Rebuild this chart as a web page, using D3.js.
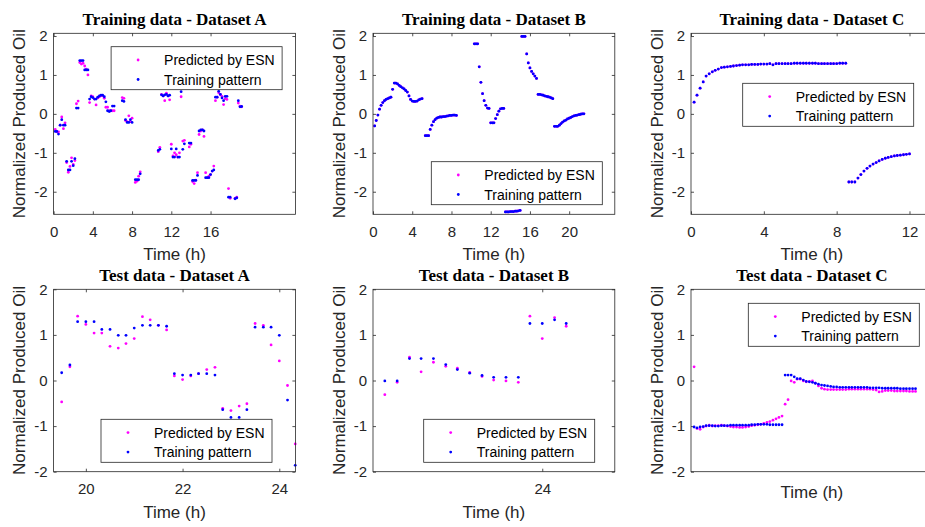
<!DOCTYPE html>
<html>
<head>
<meta charset="utf-8">
<script src="https://cdn.jsdelivr.net/npm/d3@7"></script>
<style>
  body { margin: 0; background: #fff; }
  svg { display: block; }
</style>
</head>
<body>
<svg id="chart" width="925" height="527"></svg>
<script>
// ---------- Training data, Dataset A: [time (h), training pattern, ESN prediction] ----------
const trainA = [
  [0.17,-0.45,-0.40],[0.33,-0.45,-0.46],[0.5,-0.52,-0.46],[0.67,-0.29,-0.29],[0.83,-0.15,-0.08],[1.0,-0.29,-0.38],[1.17,-0.29,-0.23],
  [1.33,-1.22,-1.25],[1.5,-1.44,-1.50],[1.67,-1.44,-1.35],[1.83,-1.22,-1.13],[2.0,-1.33,-1.30],[2.17,-1.15,-1.20],
  [2.33,0.15,0.26],[2.5,0.15,0.33],
  [2.67,1.37,1.32],[2.83,1.37,1.28],[3.0,1.37,1.30],[3.17,1.13,1.23],[3.33,1.13,1.15],[3.5,1.13,1.00],
  [3.67,0.38,0.29],[3.83,0.44,0.46],[4.0,0.42,0.44],[4.17,0.38,0.38],[4.33,0.38,0.23],[4.5,0.43,0.41],[4.67,0.46,0.44],
  [4.83,0.48,0.47],[5.0,0.48,0.46],[5.17,0.44,0.40],[5.33,0.31,0.17],
  [5.5,0.08,0.17],[5.67,0.06,0.08],[5.83,0.08,0.08],[6.0,0.20,0.08],[6.17,0.20,0.08],
  [7.0,0.34,0.42],[7.17,0.32,0.40],
  [7.33,-0.15,-0.17],[7.5,-0.22,-0.20],[7.67,-0.22,-0.05],[7.83,-0.15,-0.20],[8.0,-0.22,-0.11],
  [8.33,-1.69,-1.76],[8.5,-1.69,-1.73],[8.67,-1.69,-1.60],[8.83,-1.54,-1.49],
  [10.67,-0.94,-0.97],[10.83,-0.91,-0.86],
  [11.0,0.49,0.50],[11.17,0.46,0.46],[11.33,0.49,0.34],[11.5,0.50,0.53],[11.67,0.46,0.46],[11.83,0.48,0.36],
  [12.0,-0.90,-0.78],[12.17,-1.11,-1.08],[12.33,-1.11,-1.00],[12.5,-0.90,-1.05],[12.67,-1.11,-1.11],[12.83,-1.11,-1.00],
  [13.0,0.57,0.44],
  [13.17,-0.91,-0.70],[13.33,-0.77,-0.68],[13.83,-0.75,-0.85],[14.0,-0.75,-0.78],
  [14.17,-1.71,-1.74],[14.33,-1.71,-1.79],[14.5,-1.71,-1.70],[14.67,-1.58,-1.51],
  [14.83,-0.44,-0.53],[15.0,-0.41,-0.44],[15.17,-0.41,-0.41],[15.33,-0.44,-0.58],
  [15.5,-1.64,-1.51],[15.67,-1.64,-1.64],[15.83,-1.64,-1.60],[16.0,-1.56,-1.56],[16.17,-1.47,-1.47],[16.33,-1.44,-1.34],
  [16.5,0.43,0.34],[16.67,0.43,0.43],[16.83,0.58,0.54],[17.0,0.50,0.50],[17.17,0.41,0.45],[17.33,0.34,0.24],[17.5,0.45,0.39],[17.67,0.45,0.37],
  [17.83,-2.14,-1.92],[18.0,-2.14,-2.17],[18.5,-2.18,-2.17],[18.67,-2.16,-2.14],
  [18.83,0.34,0.28],[19.0,0.18,0.20],[19.17,0.19,0.18]
];

// ---------- Training data, Dataset B: [time (h), value]; the ESN output lies on the pattern ----------
const trainB = [
  [0.17,-0.31],[0.33,-0.17],[0.5,-0.03],[0.67,0.12],[0.83,0.22],[1.0,0.29],[1.17,0.34],[1.33,0.37],[1.5,0.39],[1.67,0.41],
  [1.83,0.43],[2.0,0.63],[2.17,0.79],[2.33,0.79],[2.5,0.77],[2.67,0.73],[2.83,0.70],[3.0,0.67],[3.17,0.64],[3.33,0.60],
  [3.5,0.56],[3.67,0.46],[3.83,0.37],[4.0,0.33],[4.17,0.32],[4.33,0.32],[4.5,0.33],[4.67,0.36],[4.83,0.38],[5.0,0.39],
  [5.33,-0.56],[5.5,-0.56],[5.67,-0.56],[5.83,-0.40],[6.0,-0.29],[6.17,-0.20],[6.33,-0.15],[6.5,-0.11],[6.67,-0.09],[6.83,-0.08],
  [7.0,-0.08],[7.17,-0.07],[7.33,-0.07],[7.5,-0.06],[7.67,-0.05],[7.83,-0.04],[8.0,-0.04],[8.17,-0.03],[8.33,-0.03],[8.5,-0.04],
  [10.33,1.80],[10.5,1.80],[10.67,1.80],[10.83,1.21],[11.0,0.81],[11.17,0.52],[11.33,0.34],[11.5,0.22],[11.67,0.15],[11.83,0.14],
  [12.0,-0.23],[12.17,-0.23],[12.33,-0.23],[12.5,-0.12],[12.67,-0.02],[12.83,0.07],[13.0,0.13],[13.17,0.14],[13.33,0.14],
  [13.5,-2.52],[13.67,-2.52],[13.83,-2.52],[14.0,-2.51],[14.17,-2.51],[14.33,-2.51],[14.5,-2.50],[14.67,-2.50],[14.83,-2.49],[15.0,-2.48],
  [15.17,1.99],[15.33,1.99],[15.5,1.99],[15.67,1.54],[15.83,1.31],[16.0,1.18],[16.17,1.09],[16.33,1.03],[16.5,0.97],[16.67,0.91],
  [16.83,0.50],[17.0,0.50],[17.17,0.49],[17.33,0.48],[17.5,0.46],[17.67,0.45],[17.83,0.44],[18.0,0.43],[18.17,0.41],[18.33,0.39],
  [18.5,-0.32],[18.67,-0.32],[18.83,-0.32],[19.0,-0.29],[19.17,-0.25],[19.33,-0.21],[19.5,-0.18],[19.67,-0.16],[19.83,-0.13],[20.0,-0.11],
  [20.17,-0.09],[20.33,-0.07],[20.5,-0.05],[20.67,-0.04],[20.83,-0.03],[21.0,-0.02],[21.17,-0.01],[21.33,0.0],[21.5,0.0]
];

// ---------- Training data, Dataset C: [time (h), value]; the ESN output lies on the pattern ----------
const trainC = [
  [0.17,0.30],[0.33,0.48],[0.5,0.66],[0.67,0.82],[0.83,0.97],[1.0,1.03],[1.17,1.08],[1.33,1.12],[1.5,1.15],[1.67,1.19],
  [1.83,1.20],[2.0,1.21],[2.17,1.22],[2.33,1.23],[2.5,1.24],[2.67,1.25],[2.83,1.26],[3.0,1.26],[3.17,1.26],[3.33,1.27],
  [3.5,1.27],[3.67,1.27],[3.83,1.28],[4.0,1.28],[4.17,1.28],[4.33,1.29],[4.5,1.26],[4.67,1.29],[4.83,1.29],[5.0,1.29],
  [5.17,1.29],[5.33,1.29],[5.5,1.29],[5.67,1.30],[5.83,1.30],[6.0,1.30],[6.17,1.30],[6.33,1.30],[6.5,1.30],[6.67,1.30],
  [6.83,1.30],[7.0,1.29],[7.17,1.29],[7.33,1.29],[7.5,1.29],[7.67,1.29],[7.83,1.29],[8.0,1.29],[8.17,1.30],[8.33,1.30],[8.5,1.30],
  [8.67,-1.75],[8.83,-1.75],[9.0,-1.75],[9.17,-1.65],[9.33,-1.56],[9.5,-1.47],[9.67,-1.40],[9.83,-1.34],[10.0,-1.29],[10.17,-1.25],
  [10.33,-1.21],[10.5,-1.17],[10.67,-1.14],[10.83,-1.12],[11.0,-1.10],[11.17,-1.08],[11.33,-1.07],[11.5,-1.06],[11.67,-1.05],
  [11.83,-1.04],[12.0,-1.03]
];

// ---------- Test data, Dataset A ----------
const testATime = [19.5,19.67,19.83,20.0,20.17,20.33,20.5,20.67,20.83,21.0,21.17,21.33,21.5,21.67,21.83,
  22.0,22.17,22.33,22.5,22.67,22.83,23.0,23.17,23.33,23.5,23.67,23.83,24.0,24.17,24.33];
const testAPattern = [0.17,0.34,1.29,1.29,1.29,1.12,1.12,0.99,0.99,1.15,1.21,1.21,1.21,1.19,0.15,
  0.12,0.12,0.15,0.15,0.12,-0.64,-0.81,-0.81,-0.64,1.17,1.17,1.17,0.99,-0.43,-1.86];
const testAPred = [-0.47,0.30,1.41,1.23,1.04,1.04,0.75,0.71,0.81,0.92,1.40,1.33,1.21,1.11,0.10,
  0.02,0.10,0.15,0.24,0.29,-0.61,-0.66,-0.56,-0.51,1.25,1.21,0.78,0.43,-0.11,-1.39];

// ---------- Test data, Dataset B ----------
const testBTime = [21.83,22.0,22.17,22.33,22.5,22.67,22.83,23.0,23.17,23.33,23.5,23.67,23.83,24.0,24.17,24.33];
const testBPattern = [-0.01,-0.01,0.48,0.48,0.48,0.35,0.24,0.16,0.11,0.07,0.07,0.07,1.25,1.25,1.33,1.25];
const testBPred = [-0.31,-0.04,0.51,0.19,0.40,0.31,0.27,0.18,0.09,0.01,-0.01,-0.04,1.41,0.92,1.38,1.19];

// ---------- Test data, Dataset C ----------
const testCTime = [12.17,12.33,12.5,12.67,12.83,13.0,13.17,13.33,13.5,13.67,13.83,14.0,14.17,14.33,14.5,
  14.67,14.83,15.0,15.17,15.33,15.5,15.67,15.83,16.0,16.17,16.33,16.5,16.67,16.83,17.0,
  17.17,17.33,17.5,17.67,17.83,18.0,18.17,18.33,18.5,18.67,18.83,19.0,19.17,19.33,19.5,
  19.67,19.83,20.0,20.17,20.33,20.5,20.67,20.83,21.0,21.17,21.33,21.5,21.67,21.83,22.0,
  22.17,22.33,22.5,22.67,22.83,23.0,23.17,23.33,23.5,23.67,23.83,24.0,24.17,24.33];
const testCPattern = [-1.02,-1.04,-1.02,-1.01,-0.99,-0.99,-0.99,-1.00,-1.00,-0.99,-0.99,-0.99,-0.98,-0.98,-0.98,
  -0.98,-0.98,-0.98,-0.98,-0.97,-0.97,-0.96,-0.96,-0.96,-0.96,-0.97,-0.97,-0.97,-0.97,-0.97,
  0.12,0.12,0.12,0.08,0.04,0.04,0.01,-0.02,-0.03,-0.04,-0.06,-0.08,-0.10,-0.11,-0.12,
  -0.13,-0.14,-0.14,-0.15,-0.15,-0.15,-0.15,-0.15,-0.15,-0.15,-0.15,-0.15,-0.15,-0.16,-0.16,
  -0.16,-0.16,-0.17,-0.17,-0.17,-0.17,-0.17,-0.17,-0.18,-0.18,-0.18,-0.18,-0.18,-0.18];
const testCPred = [0.30,-1.05,-1.07,-1.02,-1.00,-0.98,-1.00,-0.99,-0.99,-0.98,-0.99,-1.00,-1.01,-1.02,-1.02,
  -1.03,-1.03,-1.02,-1.01,-0.99,-0.98,-0.97,-0.96,-0.94,-0.92,-0.90,-0.87,-0.84,-0.81,-0.78,
  -0.52,-0.42,-0.01,-0.04,0.03,0.03,-0.01,-0.03,-0.02,-0.01,-0.06,-0.12,-0.17,-0.19,-0.20,
  -0.20,-0.20,-0.20,-0.20,-0.20,-0.20,-0.19,-0.19,-0.19,-0.19,-0.19,-0.19,-0.19,-0.19,
  -0.20,-0.21,-0.25,-0.24,-0.22,-0.22,-0.22,-0.23,-0.23,-0.23,-0.23,-0.23,-0.24,-0.24,-0.24];

// ---------- Axis settings ----------
const trainYDomain = [-2.58, 2.07];
const testYDomain = [-2, 2];
const yTicks = [-2, -1, 0, 1, 2];
const trainATicks = [0, 4, 8, 12, 16];
const trainBTicks = [0, 4, 8, 12, 16, 20];
const trainCTicks = [0, 4, 8, 12];
const testATicks = [20, 22, 24];
const testBTicks = [24];
const testCTicks = [];

const legendLabels = ["Predicted by ESN", "Training pattern"];
const predColor = "#ff00ff";
const patternColor = "#0000ff";

// ---------- Layout ----------
const colLeft = [53.6, 373.0, 691.0];
const plotW = 241.8;
const rowTop = [33.3, 289.3];
const rowH = [181.0, 182.4];

const sansFont = '"Liberation Sans", Arial, Helvetica, sans-serif';
const serifFont = '"Liberation Serif", "Times New Roman", Times, serif';

const panels = [
  { title: "Training data - Dataset A", row: 0, col: 0, xDomain: [0, 24.65], yDomain: trainYDomain, xTicks: trainATicks,
    time: trainA.map(d => d[0]), pattern: trainA.map(d => d[1]), pred: trainA.map(d => d[2]), legend: [57.5, 13.4] },
  { title: "Training data - Dataset B", row: 0, col: 1, xDomain: [0, 24.65], yDomain: trainYDomain, xTicks: trainBTicks,
    time: trainB.map(d => d[0]), pattern: trainB.map(d => d[1]), pred: trainB.map(d => d[1]), legend: [58.3, 128.4] },
  { title: "Training data - Dataset C", row: 0, col: 2, xDomain: [0, 13.28], yDomain: trainYDomain, xTicks: trainCTicks,
    time: trainC.map(d => d[0]), pattern: trainC.map(d => d[1]), pred: trainC.map(d => d[1]), legend: [51.7, 50.0] },
  { title: "Test data - Dataset A", row: 1, col: 0, xDomain: [19.333, 24.333], yDomain: testYDomain, xTicks: testATicks,
    time: testATime, pattern: testAPattern, pred: testAPred, legend: [47.4, 130.0] },
  { title: "Test data - Dataset B", row: 1, col: 1, xDomain: [21.667, 25.0], yDomain: testYDomain, xTicks: testBTicks,
    time: testBTime, pattern: testBPattern, pred: testBPred, legend: [50.7, 130.0] },
  { title: "Test data - Dataset C", row: 1, col: 2, xDomain: [12, 25.28], yDomain: testYDomain, xTicks: testCTicks,
    time: testCTime, pattern: testCPattern, pred: testCPred, legend: [57.3, 14.0] }
];

const axisColor = "#262626";
const tickLen = 3;
const svg = d3.select("#chart");
svg.append("rect").attr("width", 925).attr("height", 527).attr("fill", "#fff");

panels.forEach(p => {
  const left = colLeft[p.col], top = rowTop[p.row], w = plotW, h = rowH[p.row];
  const x = d3.scaleLinear().domain(p.xDomain).range([0, w]);
  const y = d3.scaleLinear().domain(p.yDomain).range([h, 0]);
  const g = svg.append("g").attr("transform", `translate(${left},${top})`);

  g.append("rect").attr("width", w).attr("height", h).attr("fill", "#fff");

  // tick marks point inward on all four sides, labels only bottom and left
  const fmt = d => String(d);
  const styleAxis = sel => {
    sel.select(".domain").remove();
    sel.selectAll(".tick line").attr("stroke", axisColor).attr("stroke-width", 0.8);
    sel.selectAll(".tick text").attr("fill", axisColor).style("font-size", "15px")
      .style("font-family", sansFont);
  };
  g.append("g").attr("transform", `translate(0,${h})`)
    .call(d3.axisBottom(x).tickValues(p.xTicks).tickSizeInner(-tickLen).tickSizeOuter(0).tickPadding(12).tickFormat(fmt))
    .call(styleAxis);
  g.append("g")
    .call(d3.axisTop(x).tickValues(p.xTicks).tickSizeInner(-tickLen).tickSizeOuter(0).tickFormat(""))
    .call(styleAxis);
  g.append("g")
    .call(d3.axisLeft(y).tickValues(yTicks).tickSizeInner(-tickLen).tickSizeOuter(0).tickPadding(6).tickFormat(fmt))
    .call(styleAxis);
  g.append("g").attr("transform", `translate(${w},0)`)
    .call(d3.axisRight(y).tickValues(yTicks).tickSizeInner(-tickLen).tickSizeOuter(0).tickFormat(""))
    .call(styleAxis);

  // ESN prediction first, training pattern on top
  g.append("g").selectAll("circle").data(p.time.map((t, i) => [t, p.pred[i]])).join("circle")
    .attr("cx", d => x(d[0])).attr("cy", d => y(d[1])).attr("r", 1.4).attr("fill", predColor);
  g.append("g").selectAll("circle").data(p.time.map((t, i) => [t, p.pattern[i]])).join("circle")
    .attr("cx", d => x(d[0])).attr("cy", d => y(d[1])).attr("r", 1.4).attr("fill", patternColor);

  // frame
  g.append("rect").attr("width", w).attr("height", h).attr("fill", "none")
    .attr("stroke", axisColor).attr("stroke-width", 0.8);

  // title
  g.append("text").attr("x", w / 2).attr("y", -8).attr("text-anchor", "middle")
    .style("font-family", serifFont).style("font-weight", "bold")
    .style("font-size", "17px").attr("fill", "#000").text(p.title);

  // axis labels
  g.append("text").attr("x", w / 2).attr("y", h + (p.xTicks.length ? 46 : 26)).attr("text-anchor", "middle")
    .style("font-family", sansFont).style("font-size", "17px").attr("fill", axisColor).text("Time (h)");
  g.append("text").attr("transform", `translate(-28.5,${h / 2}) rotate(-90)`).attr("text-anchor", "middle")
    .style("font-family", sansFont).style("font-size", "17px").attr("fill", axisColor).text("Normalized Produced Oil");

  // legend
  const lg = g.append("g").attr("transform", `translate(${p.legend[0]},${p.legend[1]})`);
  lg.append("rect").attr("width", 171).attr("height", 43).attr("fill", "#fff")
    .attr("stroke", axisColor).attr("stroke-width", 0.8);
  [predColor, patternColor].forEach((c, i) => {
    const cy = 13.3 + i * 19.5;
    lg.append("circle").attr("cx", 27).attr("cy", cy).attr("r", 1.4).attr("fill", c);
    lg.append("text").attr("x", 53).attr("y", cy).attr("dy", "0.36em")
      .style("font-family", sansFont).style("font-size", "14px").attr("fill", "#000").text(legendLabels[i]);
  });
});
</script>
</body>
</html>
